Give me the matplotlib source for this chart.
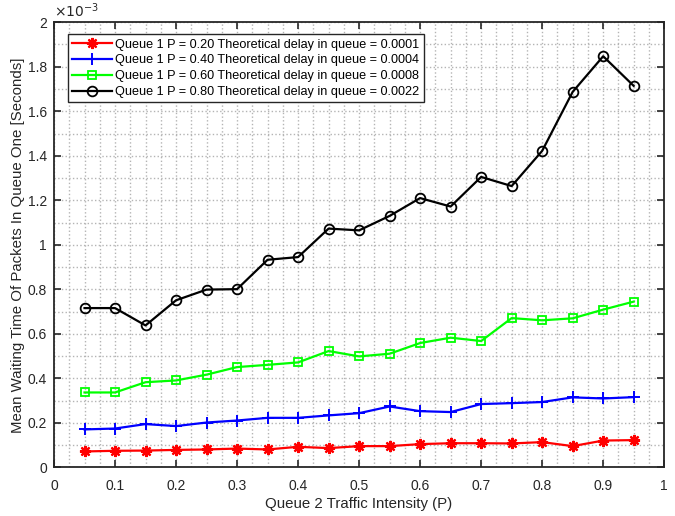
import matplotlib
matplotlib.use("Agg")
import matplotlib.pyplot as plt
from matplotlib.ticker import MultipleLocator, FuncFormatter

plt.rcParams['font.family'] = ['Liberation Sans', 'DejaVu Sans']

# Queue 2 traffic intensity
traffic = [0.05, 0.10, 0.15, 0.20, 0.25, 0.30, 0.35, 0.40, 0.45, 0.50,
           0.55, 0.60, 0.65, 0.70, 0.75, 0.80, 0.85, 0.90, 0.95]

# Mean waiting time in queue one, in units of 1e-3 seconds
wait_p020 = [0.072, 0.075, 0.076, 0.079, 0.081, 0.085, 0.081, 0.093, 0.087, 0.096,
             0.096, 0.105, 0.109, 0.109, 0.108, 0.114, 0.096, 0.121, 0.123]
wait_p040 = [0.171, 0.175, 0.195, 0.186, 0.202, 0.211, 0.223, 0.223, 0.234, 0.244,
             0.274, 0.253, 0.249, 0.285, 0.289, 0.294, 0.315, 0.310, 0.316]
wait_p060 = [0.337, 0.337, 0.383, 0.391, 0.417, 0.451, 0.461, 0.472, 0.523, 0.499,
             0.511, 0.559, 0.583, 0.568, 0.671, 0.661, 0.670, 0.709, 0.745]
wait_p080 = [0.716, 0.716, 0.638, 0.751, 0.799, 0.801, 0.933, 0.945, 1.073, 1.065,
             1.130, 1.210, 1.172, 1.305, 1.264, 1.422, 1.687, 1.847, 1.714]

labels = [
    "Queue 1 P = 0.20 Theoretical delay in queue = 0.0001",
    "Queue 1 P = 0.40 Theoretical delay in queue = 0.0004",
    "Queue 1 P = 0.60 Theoretical delay in queue = 0.0008",
    "Queue 1 P = 0.80 Theoretical delay in queue = 0.0022",
]

fig = plt.figure(figsize=(6.75, 5.16), dpi=100)
ax = fig.add_axes([0.080, 0.094, 0.904, 0.863])

ax.plot(traffic, wait_p020, color=(1, 0, 0), lw=1.6, marker=(8, 2, 0), ms=8, mew=1.6,
        label=labels[0])
ax.plot(traffic, wait_p040, color=(0, 0, 1), lw=1.6, marker='+', ms=9, mew=1.4, label=labels[1])
ax.plot(traffic, wait_p060, color=(0, 1, 0), lw=1.6, marker='s', ms=6, mew=1.3,
        mfc='none', label=labels[2])
ax.plot(traffic, wait_p080, color=(0, 0, 0), lw=1.6, marker='o', ms=7, mew=1.3,
        mfc='none', label=labels[3])

ax.set_xlim(0, 1)
ax.set_ylim(0, 2)
ax.xaxis.set_major_locator(MultipleLocator(0.1))
ax.xaxis.set_minor_locator(MultipleLocator(0.025))
ax.yaxis.set_major_locator(MultipleLocator(0.2))
ax.yaxis.set_minor_locator(MultipleLocator(0.1))
fmt = FuncFormatter(lambda v, p: "%g" % round(v, 3))
ax.xaxis.set_major_formatter(fmt)
ax.yaxis.set_major_formatter(fmt)

ax.grid(which='both', linestyle=':', color='#b4b4b4', linewidth=1.0)
ax.set_axisbelow(True)
ax.tick_params(which='major', direction='in', length=5, width=1.2, top=True, right=True,
               labelsize=10, colors='#262626')
ax.tick_params(axis='x', which='major', pad=8)
ax.tick_params(axis='y', which='major', pad=5)
ax.tick_params(which='minor', length=0, top=True, right=True)
for s in ax.spines.values():
    s.set_linewidth(1.3)
    s.set_color('#262626')

ax.set_xlabel("Queue 2 Traffic Intensity (P)", fontsize=10.8, color='#262626', labelpad=3)
ax.set_ylabel("Mean Waiting Time Of Packets In Queue One [Seconds]", fontsize=10.8,
              color='#262626', labelpad=2)
ax.text(0.0, 1.006, r"$\times 10^{-3}$", transform=ax.transAxes, fontsize=10,
        color='#262626', ha='left', va='bottom')

leg = ax.legend(loc='upper left', bbox_to_anchor=(0.023, 0.973), fontsize=9.1,
                frameon=True, fancybox=False, edgecolor='#262626', framealpha=1,
                borderpad=0.35, labelspacing=0.3, handlelength=3.1, handletextpad=0.3,
                borderaxespad=0)
leg.get_frame().set_linewidth(1.0)

fig.savefig("out.png", dpi=100)
